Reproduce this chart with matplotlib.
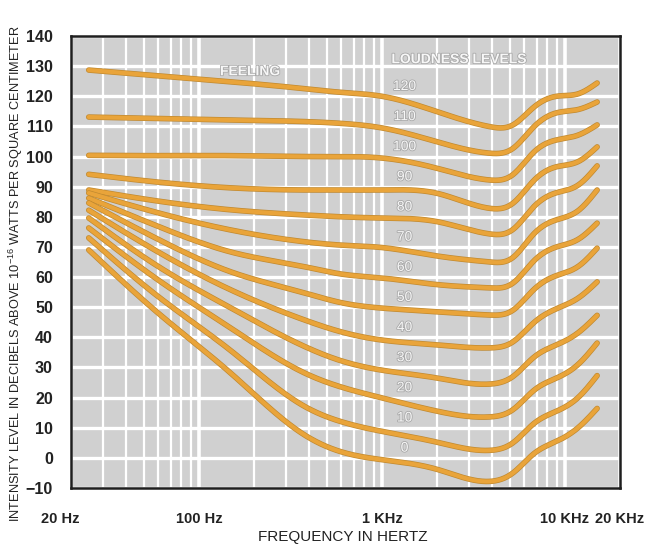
import numpy as np
import matplotlib
matplotlib.use('Agg')
import matplotlib.pyplot as plt
import matplotlib.patheffects as pe
from matplotlib.ticker import LogLocator, NullFormatter, FixedLocator
from matplotlib.transforms import ScaledTranslation
from matplotlib import font_manager

names = {f.name for f in font_manager.fontManager.ttflist}
NARROW = 'Liberation Sans Narrow' if 'Liberation Sans Narrow' in names else 'Liberation Sans'
plt.rcParams['font.family'] = [NARROW, 'DejaVu Sans']
plt.rcParams['mathtext.default'] = 'regular'

# ---------------- data ----------------
freqs = [25, 60, 150, 380, 600, 1000, 2000, 3900, 5200, 6800, 9000, 11800, 15000]
levels = [120, 110, 100, 90, 80, 70, 60, 50, 40, 30, 20, 10, 0]

curve_120 = [128.7, 126.8, 124.8, 122.5, 121.3, 120.0, 114.9, 109.9, 110.5, 116.5, 120.0, 120.8, 124.4]
curve_110 = [113.1, 112.6, 112.1, 111.6, 111.0, 109.5, 104.9, 101.1, 102.7, 110.0, 114.5, 115.6, 118.1]
curve_100 = [100.4, 100.3, 100.3, 100.0, 100.0, 99.5, 96.1, 92.2, 94.0, 101.6, 105.5, 107.1, 110.5]
curve_90 = [94.1, 91.5, 89.6, 88.9, 88.9, 88.9, 87.8, 82.8, 84.5, 92.2, 96.6, 98.3, 103.2]
curve_80 = [88.9, 85.2, 82.3, 80.6, 80.0, 79.6, 78.4, 74.3, 75.8, 83.5, 88.0, 90.5, 96.9]
curve_70 = [87.9, 81.3, 75.6, 71.7, 70.6, 69.8, 67.0, 65.0, 66.5, 74.5, 79.0, 82.0, 88.9]
curve_60 = [86.2, 76.8, 68.3, 63.4, 61.0, 59.7, 57.5, 56.4, 58.0, 65.5, 70.0, 72.5, 77.9]
curve_50 = [84.6, 72.5, 61.7, 54.7, 51.5, 49.7, 48.5, 47.4, 49.0, 56.0, 60.5, 63.5, 69.6]
curve_40 = [82.2, 68.3, 55.7, 45.7, 41.8, 39.1, 37.5, 36.5, 38.5, 45.0, 49.5, 53.0, 58.4]
curve_30 = [79.6, 63.5, 49.7, 36.9, 32.2, 29.1, 26.5, 24.5, 27.0, 33.5, 37.5, 41.5, 47.3]
curve_20 = [76.3, 59.0, 43.0, 28.1, 23.5, 19.9, 15.5, 13.6, 16.0, 22.5, 26.5, 31.0, 38.1]
curve_10 = [73.0, 53.5, 35.5, 17.0, 12.0, 8.8, 5.2, 2.5, 5.0, 11.5, 15.5, 20.0, 27.3]
curve_0 = [69.0, 48.0, 28.0, 7.5, 2.0, -0.6, -3.8, -7.8, -5.0, 1.5, 5.5, 10.0, 16.4]

curves = [curve_120, curve_110, curve_100, curve_90, curve_80, curve_70, curve_60,
          curve_50, curve_40, curve_30, curve_20, curve_10, curve_0]

y_ticks = list(range(-10, 150, 10))
x_tick_vals = [20, 100, 1000, 10000, 20000]
x_tick_labels = ['20 Hz', '100 Hz', '1 KHz', '10 KHz', '20 KHz']


def natural_spline(x, y, xn):
    """Smooth curve through the read points (natural cubic spline)."""
    x = np.asarray(x, float); y = np.asarray(y, float)
    n = len(x); h = np.diff(x)
    A = np.zeros((n, n)); b = np.zeros(n)
    A[0, 0] = 1; A[-1, -1] = 1
    for i in range(1, n - 1):
        A[i, i - 1] = h[i - 1]; A[i, i] = 2 * (h[i - 1] + h[i]); A[i, i + 1] = h[i]
        b[i] = 6 * ((y[i + 1] - y[i]) / h[i] - (y[i] - y[i - 1]) / h[i - 1])
    M = np.linalg.solve(A, b)
    idx = np.clip(np.searchsorted(x, xn) - 1, 0, n - 2)
    x0 = x[idx]; x1 = x[idx + 1]; hh = h[idx]
    return (M[idx] * (x1 - xn) ** 3 / (6 * hh) + M[idx + 1] * (xn - x0) ** 3 / (6 * hh)
            + (y[idx] / hh - M[idx] * hh / 6) * (x1 - xn)
            + (y[idx + 1] / hh - M[idx + 1] * hh / 6) * (xn - x0))


W, H = 649, 544
fig = plt.figure(figsize=(W / 100, H / 100), dpi=100)
fig.patch.set_facecolor('white')
ax = fig.add_axes([71 / W, 1 - 488 / H, (620 - 71) / W, (488 - 36) / H])
ax.set_xscale('log')
ax.set_xlim(20, 20000)
ax.set_ylim(-10, 140)
ax.set_facecolor('#d0d0d0')

ax.xaxis.set_major_locator(FixedLocator([20, 100, 1000, 10000]))
ax.xaxis.set_minor_locator(LogLocator(base=10, subs=np.arange(2, 10)))
ax.xaxis.set_minor_formatter(NullFormatter())
ax.grid(which='major', axis='x', color='white', lw=2.6)
ax.grid(which='minor', axis='x', color='white', lw=1.6)
ax.set_yticks(y_ticks)
ax.grid(which='major', axis='y', color='white', lw=2.4)
ax.set_axisbelow(True)

ax.set_xticks(x_tick_vals, minor=False)
ax.set_xticklabels(x_tick_labels)
ax.set_yticklabels([('\u221210' if v < 0 else str(v)) for v in y_ticks])
ax.tick_params(axis='both', which='both', length=0)
ax.tick_params(axis='x', pad=17, labelsize=10.5, labelcolor='#222222')
ax.tick_params(axis='y', pad=13, labelsize=11.5, labelcolor='#222222')
for lab in ax.get_xticklabels() + ax.get_yticklabels():
    lab.set_fontweight('bold')
for lab in ax.get_xticklabels():
    if lab.get_text() == '20 Hz':
        lab.set_transform(lab.get_transform() + ScaledTranslation(-11 / 100, 0, fig.dpi_scale_trans))

for s in ax.spines.values():
    s.set_color('#1e1e1e')
    s.set_linewidth(1.8)

lf = np.log10(freqs)
for lvl, vals in zip(levels, curves):
    xs = np.linspace(lf[0], lf[-1], 500)
    ys = natural_spline(lf, vals, xs)
    ax.plot(10 ** xs, ys, color='#E9A43A', lw=3.0, solid_capstyle='round', zorder=3,
            path_effects=[pe.Stroke(linewidth=4.0, foreground='#C08930'), pe.Normal()])
    ax.text(1330, lvl + 3.4, str(lvl), color='#f7f7f7', fontsize=10, ha='center', va='center', zorder=4,
            path_effects=[pe.withStroke(linewidth=1.2, foreground='#a8a8a8')])

ax.text(190, 128.3, 'FEELING', color='#f7f7f7', fontsize=10, fontweight='bold', ha='center', va='center',
        zorder=4, path_effects=[pe.withStroke(linewidth=1.2, foreground='#a8a8a8')])
ax.text(2630, 132.3, 'LOUDNESS LEVELS', color='#f7f7f7', fontsize=10, fontweight='bold', ha='center',
        va='center', zorder=4, path_effects=[pe.withStroke(linewidth=1.2, foreground='#a8a8a8')])

fig.text(343 / W, 1 - 537 / H, 'FREQUENCY IN HERTZ', ha='center', va='center', fontsize=11, color='#222222')
fig.text(16 / W, 1 - 522 / H,
         'INTENSITY LEVEL IN DECIBELS ABOVE $10^{-16}$ WATTS PER SQUARE CENTIMETER',
         rotation=90, ha='center', va='bottom', fontsize=9.2, color='#222222')

fig.savefig('out.png', dpi=100, facecolor='white')
